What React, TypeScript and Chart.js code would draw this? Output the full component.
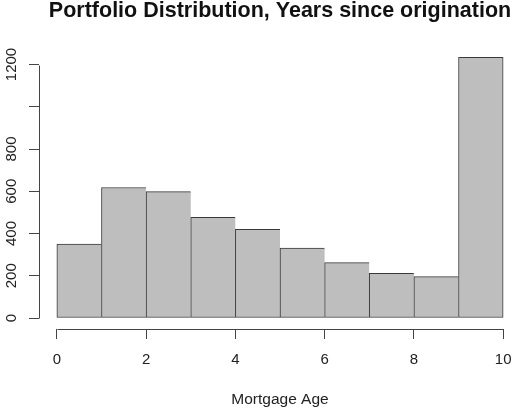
import React, { useEffect, useRef } from 'react';
import { Chart, registerables } from 'chart.js';

Chart.register(...registerables);

const titleText = 'Portfolio Distribution, Years since origination';
const xTitle = 'Mortgage Age';
const binStarts = [0, 1, 2, 3, 4, 5, 6, 7, 8, 9];
const binWidth = 1;
const counts = [350, 618, 598, 477, 420, 331, 262, 212, 196, 1234];
const xTicks = [0, 2, 4, 6, 8, 10];
const xTickLabels = ['0', '2', '4', '6', '8', '10'];
const yTicks = [0, 200, 400, 600, 800, 1000, 1200];
const yTickLabels = ['0', '200', '400', '600', '800', '', '1200'];

const FONT = "'Liberation Sans', Arial, Helvetica, sans-serif";
const LINE = '#444444';

export default function App() {
  const ref = useRef<HTMLCanvasElement>(null);

  useEffect(() => {
    const canvas = ref.current;
    if (!canvas) return;

    const axisLines = {
      id: 'axisLines',
      afterDraw(chart: any) {
        const { ctx, chartArea, scales } = chart;
        const x = scales.x;
        const y = scales.y;
        ctx.save();
        ctx.strokeStyle = LINE;
        ctx.lineWidth = 1;
        ctx.beginPath();
        const ax = Math.round(chartArea.left) + 0.5;
        ctx.moveTo(ax, Math.round(y.getPixelForValue(yTicks[0])) + 0.5);
        ctx.lineTo(ax, Math.round(y.getPixelForValue(yTicks[yTicks.length - 1])) + 0.5);
        const ay = Math.round(chartArea.bottom) + 0.5;
        ctx.moveTo(Math.round(x.getPixelForValue(xTicks[0])) + 0.5, ay);
        ctx.lineTo(Math.round(x.getPixelForValue(xTicks[xTicks.length - 1])) + 0.5, ay);
        ctx.stroke();
        ctx.restore();
      },
    };

    const last = counts.length - 1;

    const chart = new Chart(canvas, {
      type: 'bar',
      data: {
        datasets: [
          {
            data: binStarts.map((s, i) => ({ x: s + binWidth / 2, y: counts[i] })),
            backgroundColor: '#bebebe',
            borderColor: '#3a3a3a',
            borderWidth: (c: any) =>
              c.dataIndex === last
                ? { left: 1, top: 1, right: 1, bottom: 1 }
                : { left: 1, top: 1, right: 0, bottom: 1 },
            borderSkipped: false,
            barPercentage: 1,
            categoryPercentage: 1,
          } as any,
        ],
      },
      options: {
        animation: false,
        responsive: false,
        devicePixelRatio: 1,
        layout: { padding: 0 },
        plugins: {
          legend: { display: false },
          tooltip: { enabled: false },
          title: {
            display: true,
            text: titleText,
            fullSize: false,
            color: '#111',
            font: { family: FONT, size: 21.5, weight: 'bold', lineHeight: 0.8 },
            padding: { top: 2, bottom: 27.8 },
          },
        },
        scales: {
          x: {
            type: 'linear',
            min: -0.4,
            max: 10.4,
            offset: false,
            afterBuildTicks: (s: any) => {
              s.ticks = xTicks.map((v) => ({ value: v }));
            },
            afterFit: (s: any) => {
              s.height = 80;
              s.paddingLeft = 0;
              s.paddingRight = 0;
            },
            border: { display: false },
            grid: {
              display: true,
              offset: false,
              drawOnChartArea: false,
              drawTicks: true,
              tickLength: 10,
              color: LINE,
            },
            ticks: {
              autoSkip: false,
              maxRotation: 0,
              minRotation: 0,
              padding: 12,
              color: '#222',
              font: { family: FONT, size: 15 },
              callback: (_v: any, i: number) => xTickLabels[i],
            },
            title: {
              display: true,
              text: xTitle,
              color: '#222',
              font: { family: FONT, size: 15.5 },
              padding: { top: 0, bottom: 0 },
            },
          },
          y: {
            type: 'linear',
            min: -52,
            max: 1283,
            afterBuildTicks: (s: any) => {
              s.ticks = yTicks.map((v) => ({ value: v }));
            },
            afterFit: (s: any) => {
              s.width = 39;
              s.paddingTop = 0;
              s.paddingBottom = 0;
            },
            border: { display: false },
            grid: { display: true, drawOnChartArea: false, drawTicks: true, tickLength: 10, color: LINE },
            ticks: {
              autoSkip: false,
              minRotation: 90,
              maxRotation: 90,
              crossAlign: 'center',
              padding: 0,
              color: '#222',
              font: { family: FONT, size: 15 },
              callback: (_v: any, i: number) => yTickLabels[i],
            },
          },
        },
      } as any,
      plugins: [axisLines],
    });

    return () => chart.destroy();
  }, []);

  return (
    <div
      style={{
        position: 'absolute',
        left: 0,
        top: 0,
        width: 514,
        height: 409,
        overflow: 'hidden',
        background: '#fff',
      }}
    >
      <canvas ref={ref} width={521} height={409} style={{ display: 'block' }} />
    </div>
  );
}
